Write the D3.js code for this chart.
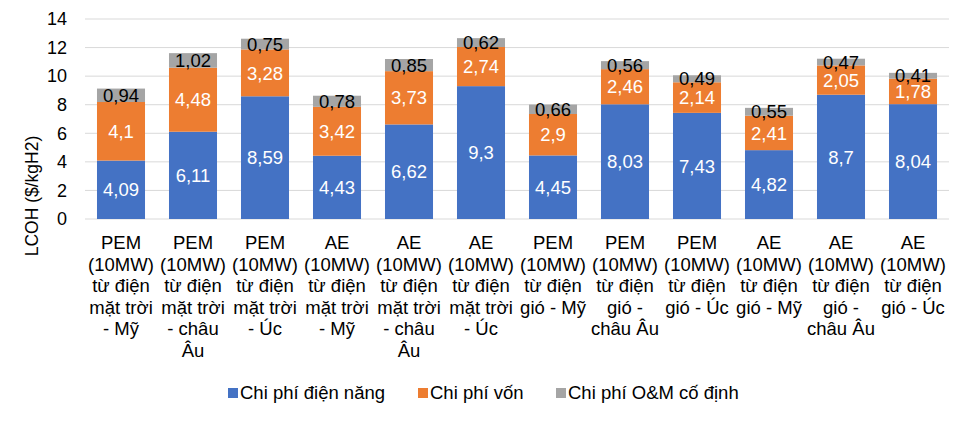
<!DOCTYPE html>
<html><head><meta charset="utf-8">
<script src="https://cdn.jsdelivr.net/npm/d3@7"></script>
<style>body{margin:0;background:#fff;font-family:"Liberation Sans",Arial,sans-serif;}</style>
</head><body><svg id="c" width="965" height="421"></svg>
<script>
const categories = [
 ["PEM","(10MW)","từ điện","mặt trời","- Mỹ"],
 ["PEM","(10MW)","từ điện","mặt trời","- châu","Âu"],
 ["PEM","(10MW)","từ điện","mặt trời","- Úc"],
 ["AE","(10MW)","từ điện","mặt trời","- Mỹ"],
 ["AE","(10MW)","từ điện","mặt trời","- châu","Âu"],
 ["AE","(10MW)","từ điện","mặt trời","- Úc"],
 ["PEM","(10MW)","từ điện","gió - Mỹ"],
 ["PEM","(10MW)","từ điện","gió -","châu Âu"],
 ["PEM","(10MW)","từ điện","gió - Úc"],
 ["AE","(10MW)","từ điện","gió - Mỹ"],
 ["AE","(10MW)","từ điện","gió -","châu Âu"],
 ["AE","(10MW)","từ điện","gió - Úc"]
];
const electricity = [4.09,6.11,8.59,4.43,6.62,9.3,4.45,8.03,7.43,4.82,8.7,8.04];
const capital = [4.1,4.48,3.28,3.42,3.73,2.74,2.9,2.46,2.14,2.41,2.05,1.78];
const om = [0.94,1.02,0.75,0.78,0.85,0.62,0.66,0.56,0.49,0.55,0.47,0.41];
const seriesNames = ["Chi phí điện năng","Chi phí vốn","Chi phí O&M cố định"];
const colors = ["#4472C4","#ED7D31","#A5A5A5"];
const labelColors = ["#fff","#fff","#000"];
const yTicks = [0,2,4,6,8,10,12,14];

const svg = d3.select("#c");
const x = d3.scaleBand().domain(d3.range(categories.length)).range([85,949]).paddingInner(0.333).paddingOuter(0.1665);
const y = d3.scaleLinear().domain([0,14]).range([219,19]);

// gridlines
svg.append("g").selectAll("line").data(yTicks).join("line")
 .attr("x1",85).attr("x2",949).attr("y1",d=>y(d)).attr("y2",d=>y(d))
 .attr("stroke","#d9d9d9").attr("stroke-width",1);

// y axis
const ya = svg.append("g").attr("transform","translate(85,0)")
 .call(d3.axisLeft(y).tickValues(yTicks).tickSize(0).tickPadding(18).tickFormat(d3.format("d")));
ya.select(".domain").remove();
ya.selectAll("text").attr("font-size",18).attr("font-family","Liberation Sans, Arial").attr("fill","#000");

svg.append("text").attr("transform","translate(38,196) rotate(-90)").attr("text-anchor","middle")
 .attr("font-size",17.5).text("LCOH ($/kgH2)");

const data = categories.map((c,i)=>({i, e:electricity[i], c:capital[i], o:om[i]}));
const stack = d3.stack().keys(["e","c","o"])(data);

stack.forEach((s,k)=>{
 const g = svg.append("g");
 g.selectAll("rect").data(s).join("rect")
  .attr("x",d=>x(d.data.i)).attr("width",x.bandwidth())
  .attr("y",d=>y(d[1])).attr("height",d=>y(d[0])-y(d[1]))
  .attr("fill",colors[k]);
 g.selectAll("text").data(s).join("text")
  .attr("x",d=>x(d.data.i)+x.bandwidth()/2)
  .attr("y",d=>y((d[0]+d[1])/2)).attr("dy","0.36em")
  .attr("text-anchor","middle").attr("font-size",18.5).attr("fill",labelColors[k])
  .text(d=>String(d.data[["e","c","o"][k]]).replace(".",","));
});

// category labels
const cl = svg.append("g");
categories.forEach((lines,i)=>{
 const t = cl.append("text").attr("text-anchor","middle").attr("font-size",18.5)
  .attr("x",x(i)+x.bandwidth()/2).attr("y",249);
 lines.forEach((ln,j)=>t.append("tspan").attr("x",x(i)+x.bandwidth()/2).attr("dy",j?21.6:0).text(ln));
});

// legend
const lg = svg.append("g");
const lx = [240,430,568];
seriesNames.forEach((n,k)=>{
 lg.append("rect").attr("x",lx[k]-12).attr("y",388).attr("width",10).attr("height",10).attr("fill",colors[k]);
 lg.append("text").attr("x",lx[k]).attr("y",399).attr("font-size",18.5).text(n);
});
</script></body></html>
